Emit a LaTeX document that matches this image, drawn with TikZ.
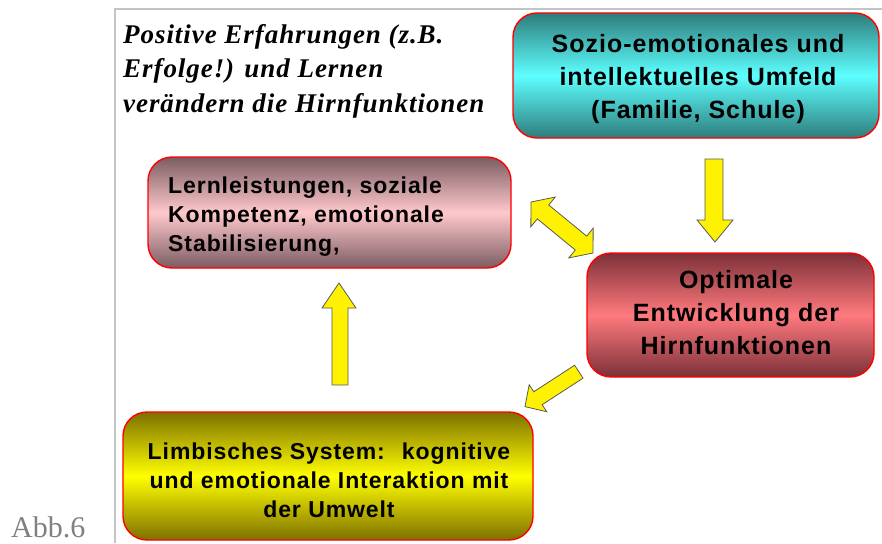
\documentclass[tikz,border=0pt]{standalone}
\usepackage{fontspec}
\setmainfont{Liberation Serif}
\newfontfamily\boxfont[LetterSpace=4]{Liberation Sans}
\newfontfamily\titlefont[LetterSpace=3.5]{Liberation Serif}
\definecolor{cyanT}{HTML}{2E7C7C}
\definecolor{cyanM}{HTML}{5EFFFF}
\definecolor{pinkT}{HTML}{7B5C62}
\definecolor{pinkM}{HTML}{FFC9CC}
\definecolor{redT}{HTML}{7C3038}
\definecolor{redM}{HTML}{FF7A7E}
\definecolor{yelT}{HTML}{7D7000}
\definecolor{yelM}{HTML}{FFFF00}
\definecolor{frameC}{HTML}{C4C4C4}
\definecolor{abbC}{HTML}{808080}
\tikzset{
  box/.style={draw=red, line width=1.4pt, rounded corners=24pt, inner sep=0pt, anchor=center},
  bigtext/.style={font=\boxfont\bfseries\fontsize{25}{33}\selectfont, align=center, inner sep=0pt},
  smalltext/.style={font=\boxfont\bfseries\fontsize{23}{29}\selectfont, inner sep=0pt},
  barrow/.style={fill=yellow, draw=black!65, line width=0.8pt, line join=miter},
  framel/.style={draw=frameC, line width=2pt},
}
\begin{document}
\begin{tikzpicture}[x=1pt,y=-1pt]
\useasboundingbox (0,0) rectangle (882,543);
% frame
\draw[framel] (115,543) -- (115,9) -- (882,9);
% title
\node[anchor=north west, inner sep=0pt, align=left,
      font=\titlefont\bfseries\itshape\fontsize{27}{34.5}\selectfont] (title) at (123,24)
  {Positive Erfahrungen (z.B.\\Erfolge!) und Lernen\\verändern die Hirnfunktionen};
% boxes
\node[box, minimum width=366pt, minimum height=125pt,
      top color=cyanT, bottom color=cyanT, middle color=cyanM] (umfeld) at (696,75.5) {};
\node[bigtext] (umfeldtext) at (698,79.5)
  {Sozio-emotionales und\\intellektuelles Umfeld\\(Familie, Schule)};
\node[box, minimum width=363pt, minimum height=111pt,
      top color=pinkT, bottom color=pinkT, middle color=pinkM] (lern) at (329.5,212.5) {};
\node[smalltext, anchor=west, align=left] (lerntext) at (168,217)
  {Lernleistungen, soziale\\Kompetenz, emotionale\\Stabilisierung,};
\node[box, minimum width=287pt, minimum height=124pt,
      top color=redT, bottom color=redT, middle color=redM] (opt) at (730.5,315) {};
\node[bigtext] (opttext) at (736,313)
  {Optimale\\Entwicklung der\\Hirnfunktionen};
\node[box, minimum width=410pt, minimum height=128pt,
      top color=yelT, bottom color=yelT, middle color=yelM] (limb) at (328,476) {};
\node[smalltext, align=center] (limbtext) at (329,480)
  {Limbisches System:~ kognitive\\und emotionale Interaktion mit\\der Umwelt};
% block arrows
\draw[barrow] (705,159) -- (723,159) -- (723,220) -- (733,220) -- (715,242) -- (697,220) -- (705,220) -- cycle;
\draw[barrow] (332,385) -- (348,385) -- (348,308) -- (356,308) -- (339,283) -- (322,308) -- (332,308) -- cycle;
\begin{scope}[shift={(562,227.5)}, rotate=-39.4]
\draw[barrow] (-40.15,0) -- (-24.55,19.2) -- (-24.55,9) -- (24.55,9) -- (24.55,19.2) -- (40.15,0)
  -- (24.55,-19.2) -- (24.55,-9) -- (-24.55,-9) -- (-24.55,-19.2) -- cycle;
\end{scope}
\begin{scope}[shift={(578.8,371.7)}, rotate=213]
\draw[barrow] (0,7.7) -- (48.7,7.7) -- (48.7,16.1) -- (64.2,0) -- (48.7,-16.1) -- (48.7,-7.7) -- (0,-7.7) -- cycle;
\end{scope}
% caption
\node[anchor=base west, inner sep=0pt, text=abbC, font=\fontsize{30}{36}\selectfont] (abb) at (11,537) {Abb.6};
\end{tikzpicture}
\end{document}
